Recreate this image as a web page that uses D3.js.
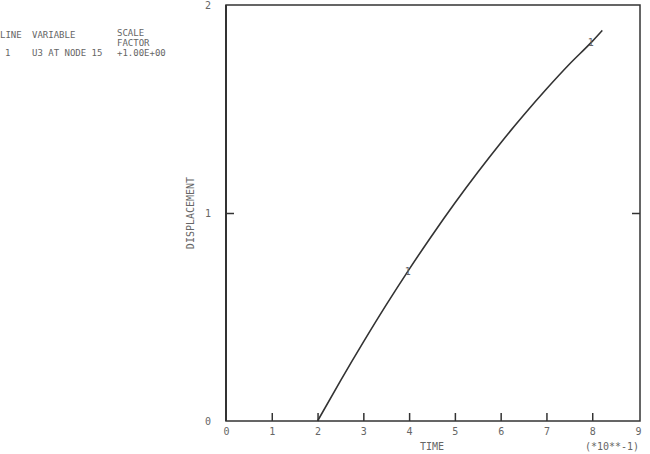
<!DOCTYPE html>
<html><head><meta charset="utf-8">
<script src="https://cdn.jsdelivr.net/npm/d3@7"></script>
<style>body{margin:0;background:#fff}svg{display:block}text{font-family:"DejaVu Sans Mono",monospace;fill:#666;}</style>
</head><body>
<svg id="c" width="650" height="454"></svg>
<script>
// time in units of 10**-1
const times = [2.0, 2.5, 3.0, 3.5, 4.0, 4.5, 5.0, 5.5, 6.0, 6.5, 7.0, 7.5, 8.0, 8.22];
const displacement = [0, 0.193, 0.379, 0.558, 0.729, 0.892, 1.048, 1.196, 1.337, 1.470, 1.596, 1.715, 1.825, 1.878];
const xTicks = [0,1,2,3,4,5,6,7,8,9];
const yTicks = [0,1,2];
const markerTimes = [3.97, 7.97];
const markerValues = [0.72, 1.822];
const legendHeader = ["LINE", "VARIABLE", "SCALE", "FACTOR"];
const legendRow = ["1", "U3 AT NODE 15", "+1.00E+00"];

const svg = d3.select("#c");
const L=226, R=640, T=5, B=421;
const x = d3.scaleLinear().domain([0,9]).range([L,R-2]);
const y = d3.scaleLinear().domain([0,2]).range([B,T]);
const ink="#333";

// frame
svg.append("rect").attr("x",L).attr("y",T).attr("width",R-L).attr("height",B-T)
  .attr("fill","none").attr("stroke",ink).attr("stroke-width",1.5);
svg.append("line").attr("x1",L).attr("x2",L).attr("y1",T).attr("y2",B).attr("stroke",ink).attr("stroke-width",2);

// x axis: inward ticks
const xa = svg.append("g").attr("transform",`translate(0,${B})`)
  .call(d3.axisBottom(x).tickValues(xTicks).tickSize(-8).tickPadding(12).tickFormat(d3.format("d")));
xa.select(".domain").remove();
xa.selectAll(".tick line").attr("stroke",ink).attr("stroke-width",1.5).filter(d=>d===0||d===9).remove();
xa.selectAll("text").attr("font-size",10).attr("fill","#666").attr("dy","0.2em");

// y axis left
const ya = svg.append("g").attr("transform",`translate(${L},0)`)
  .call(d3.axisLeft(y).tickValues(yTicks).tickSize(-8).tickPadding(15).tickFormat(d3.format("d")));
ya.select(".domain").remove();
ya.selectAll(".tick line").attr("stroke",ink).attr("stroke-width",1.5).filter(d=>d!==1).remove();
ya.selectAll("text").attr("font-size",10).attr("fill","#666");
// y axis right ticks
const yr = svg.append("g").attr("transform",`translate(${R},0)`)
  .call(d3.axisRight(y).tickValues([1]).tickSize(-8).tickFormat(""));
yr.select(".domain").remove();
yr.selectAll(".tick line").attr("stroke",ink).attr("stroke-width",1.5);

// curve
const pts = times.map((t,i)=>[t,displacement[i]]);
svg.append("path").datum(pts)
  .attr("d",d3.line().x(d=>x(d[0])).y(d=>y(d[1])).curve(d3.curveMonotoneX))
  .attr("fill","none").attr("stroke",ink).attr("stroke-width",1.6);

// line markers
svg.selectAll(".mk").data(markerTimes).enter().append("text")
  .attr("x",d=>x(d)).attr("y",(d,i)=>y(markerValues[i])+4)
  .attr("text-anchor","middle").attr("font-size",10).attr("fill","#777").text("1");

// axis titles
svg.append("text").attr("x",432).attr("y",450).attr("text-anchor","middle").attr("font-size",10).text("TIME");
svg.append("text").attr("x",612).attr("y",450).attr("text-anchor","middle").attr("font-size",10).text("(*10**-1)");
svg.append("text").attr("transform","translate(194,213) rotate(-90)").attr("text-anchor","middle")
  .attr("font-size",10).text("DISPLACEMENT");

// legend
const lg = svg.append("g");
const fs = 9;
lg.append("text").attr("x",0).attr("y",38).attr("font-size",fs).text(legendHeader[0]);
lg.append("text").attr("x",32).attr("y",38).attr("font-size",fs).text(legendHeader[1]);
lg.append("text").attr("x",117).attr("y",36).attr("font-size",fs).text(legendHeader[2]);
lg.append("text").attr("x",117).attr("y",46).attr("font-size",fs).text(legendHeader[3]);
lg.append("text").attr("x",5).attr("y",56).attr("font-size",fs).text(legendRow[0]);
lg.append("text").attr("x",32).attr("y",56).attr("font-size",fs).text(legendRow[1]);
lg.append("text").attr("x",117).attr("y",56).attr("font-size",fs).text(legendRow[2]);
</script>
</body></html>
